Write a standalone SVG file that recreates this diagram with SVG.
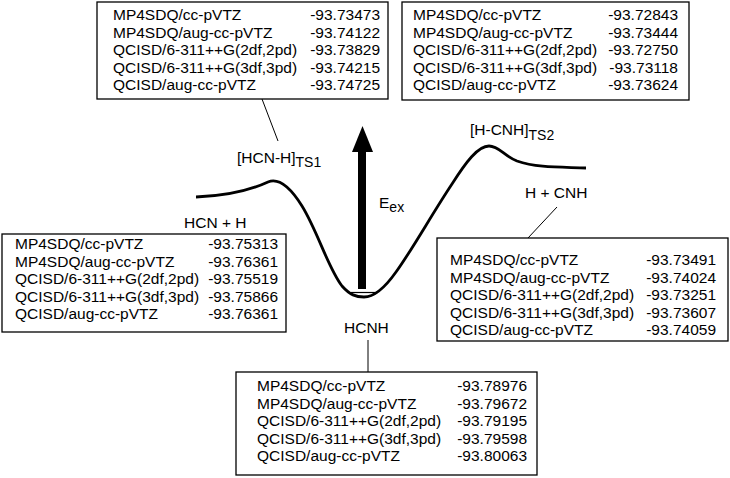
<svg xmlns="http://www.w3.org/2000/svg" width="730" height="478" viewBox="0 0 730 478">
<style>
text{font-family:"Liberation Sans",Arial,sans-serif;font-size:15.5px;fill:#000}
.num{text-anchor:end}
.box{fill:#fff;stroke:#000;stroke-width:1.3}
.sub{font-size:14px}
.conn{stroke:#000;stroke-width:1;fill:none}
</style>
<rect width="730" height="478" fill="#fff"/>
<g id="curve">
<path d="M196,197 C230,196 255,188 268,182 C280,177 292,190 302,206 C318,232 328,268 342,286 C350,295 356,297 364,297 C374,297 384,289 396,272 C412,250 432,214 452,184 C466,162 478,146 489,146 C499,146 504,156 517,161 C537,168 560,167 586,168" fill="none" stroke="#000" stroke-width="2.8"/>
<line x1="351" y1="292.5" x2="378" y2="292.5" stroke="#000" stroke-width="1.2"/>
</g>
<g id="arrow">
<rect x="358" y="150" width="8" height="139" fill="#000"/>
<polygon points="352,152 373,152 362.5,126" fill="#000"/>
<text x="379" y="208">E<tspan class="sub" dy="4">ex</tspan></text>
</g>
<g id="labels">
<text x="237" y="163">[HCN-H]<tspan class="sub" dy="4">TS1</tspan></text>
<text x="470" y="135">[H-CNH]<tspan class="sub" dy="5">TS2</tspan></text>
<text x="184" y="228">HCN + H</text>
<text x="525" y="198">H + CNH</text>
<text x="344" y="333">HCNH</text>
</g>
<g id="connectors">
<line class="conn" x1="262" y1="99" x2="278" y2="141"/>
<line class="conn" x1="557" y1="207" x2="528" y2="238"/>
<line class="conn" x1="368" y1="340" x2="368" y2="372"/>
</g>
<g id="box-ts1">
<rect class="box" x="97" y="2" width="291" height="97"/>
<text x="113" y="20">MP4SDQ/cc-pVTZ</text><text class="num" x="380" y="20">-93.73473</text>
<text x="113" y="37.6">MP4SDQ/aug-cc-pVTZ</text><text class="num" x="380" y="37.6">-93.74122</text>
<text x="113" y="55.2">QCISD/6-311++G(2df,2pd)</text><text class="num" x="380" y="55.2">-93.73829</text>
<text x="113" y="72.8">QCISD/6-311++G(3df,3pd)</text><text class="num" x="380" y="72.8">-93.74215</text>
<text x="113" y="90.4">QCISD/aug-cc-pVTZ</text><text class="num" x="380" y="90.4">-93.74725</text>
</g>
<g id="box-ts2">
<rect class="box" x="402" y="2" width="287" height="98"/>
<text x="413" y="20">MP4SDQ/cc-pVTZ</text><text class="num" x="678" y="20">-93.72843</text>
<text x="413" y="37.6">MP4SDQ/aug-cc-pVTZ</text><text class="num" x="678" y="37.6">-93.73444</text>
<text x="413" y="55.2">QCISD/6-311++G(2df,2pd)</text><text class="num" x="678" y="55.2">-93.72750</text>
<text x="413" y="72.8">QCISD/6-311++G(3df,3pd)</text><text class="num" x="678" y="72.8">-93.73118</text>
<text x="413" y="90.4">QCISD/aug-cc-pVTZ</text><text class="num" x="678" y="90.4">-93.73624</text>
</g>
<g id="box-hcn-h">
<rect class="box" x="2" y="234" width="284" height="98"/>
<text x="15" y="249">MP4SDQ/cc-pVTZ</text><text class="num" x="278" y="249">-93.75313</text>
<text x="15" y="266.6">MP4SDQ/aug-cc-pVTZ</text><text class="num" x="278" y="266.6">-93.76361</text>
<text x="15" y="284.2">QCISD/6-311++G(2df,2pd)</text><text class="num" x="278" y="284.2">-93.75519</text>
<text x="15" y="301.8">QCISD/6-311++G(3df,3pd)</text><text class="num" x="278" y="301.8">-93.75866</text>
<text x="15" y="319.4">QCISD/aug-cc-pVTZ</text><text class="num" x="278" y="319.4">-93.76361</text>
</g>
<g id="box-h-cnh">
<rect class="box" x="437" y="238" width="291" height="103"/>
<text x="450" y="265">MP4SDQ/cc-pVTZ</text><text class="num" x="716" y="265">-93.73491</text>
<text x="450" y="282.6">MP4SDQ/aug-cc-pVTZ</text><text class="num" x="716" y="282.6">-93.74024</text>
<text x="450" y="300.2">QCISD/6-311++G(2df,2pd)</text><text class="num" x="716" y="300.2">-93.73251</text>
<text x="450" y="317.8">QCISD/6-311++G(3df,3pd)</text><text class="num" x="716" y="317.8">-93.73607</text>
<text x="450" y="335.4">QCISD/aug-cc-pVTZ</text><text class="num" x="716" y="335.4">-93.74059</text>
</g>
<g id="box-hcnh">
<rect class="box" x="236" y="372" width="301" height="103"/>
<text x="257" y="391">MP4SDQ/cc-pVTZ</text><text class="num" x="527" y="391">-93.78976</text>
<text x="257" y="408.6">MP4SDQ/aug-cc-pVTZ</text><text class="num" x="527" y="408.6">-93.79672</text>
<text x="257" y="426.2">QCISD/6-311++G(2df,2pd)</text><text class="num" x="527" y="426.2">-93.79195</text>
<text x="257" y="443.8">QCISD/6-311++G(3df,3pd)</text><text class="num" x="527" y="443.8">-93.79598</text>
<text x="257" y="461.4">QCISD/aug-cc-pVTZ</text><text class="num" x="527" y="461.4">-93.80063</text>
</g>
</svg>
